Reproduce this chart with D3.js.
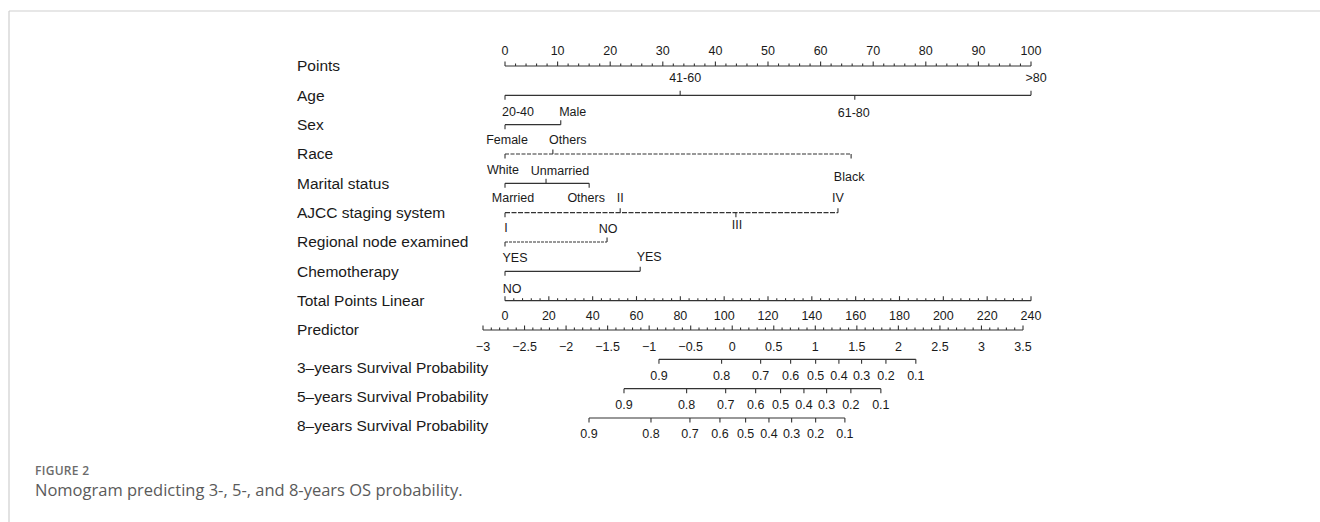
<!DOCTYPE html>
<meta charset="utf-8">
<style>
    body { margin: 0; background: #fff; }
    svg text { font-family: "Liberation Sans", Arial, sans-serif; fill: #1a1a1a; }
    .row-label { font-size: 15.5px; }
    .val { font-size: 12.5px; }
    .axis-line { stroke: #333; stroke-width: 1.1; fill: none; }
    .caption-head { font-family: "Open Sans", sans-serif; font-size: 12px; font-weight: 600; fill: #6b6b6b; letter-spacing: 0.3px; }
    .caption { font-family: "Open Sans", sans-serif; font-size: 16.5px; fill: #5a5a5a; }
</style>
<svg id="chart" width="1320" height="522"></svg>
<script src="https://cdn.jsdelivr.net/npm/d3@7/dist/d3.min.js"></script>
<script>
    // rows of the nomogram, top to bottom
    var rowNames = ["Points", "Age", "Sex", "Race", "Marital status", "AJCC staging system",
        "Regional node examined", "Chemotherapy", "Total Points Linear", "Predictor",
        "3\u2013years Survival Probability", "5\u2013years Survival Probability", "8\u2013years Survival Probability"];

    // variable levels and their points
    var ageLevels = ["20-40", "41-60", "61-80", ">80"];
    var agePoints = [0, 33.3, 66.5, 100];
    var sexLevels = ["Female", "Male"];
    var sexPoints = [0, 10.6];
    var raceLevels = ["White", "Others", "Black"];
    var racePoints = [0, 9.1, 65.8];
    var maritalLevels = ["Married", "Unmarried", "Others"];
    var maritalPoints = [0, 7.8, 16];
    var ajccLevels = ["I", "II", "III", "IV"];
    var ajccPoints = [0, 21.9, 43.9, 63.3];
    var nodeLevels = ["YES", "NO"];
    var nodePoints = [0, 19.4];
    var chemoLevels = ["NO", "YES"];
    var chemoPoints = [0, 25.7];

    // axis ticks
    var pointTicks = d3.range(0, 101, 10);
    var totalTicks = d3.range(0, 241, 20);
    var predictorTicks = [-3, -2.5, -2, -1.5, -1, -0.5, 0, 0.5, 1, 1.5, 2, 2.5, 3, 3.5];

    // survival probabilities and the predictor value at each
    var survLevels = [0.9, 0.8, 0.7, 0.6, 0.5, 0.4, 0.3, 0.2, 0.1];
    var surv3 = [-0.882, -0.128, 0.342, 0.703, 1.004, 1.284, 1.557, 1.850, 2.210];
    var surv5 = [-1.303, -0.549, -0.079, 0.282, 0.582, 0.863, 1.136, 1.428, 1.789];
    var surv8 = [-1.724, -0.978, -0.509, -0.148, 0.161, 0.442, 0.715, 1.004, 1.356];

    // label placement for each level: [dx, dy] from the tick (dy < 0 means above)
    var labelLayout = {
        "Age": [[13, 16], [5, -18], [-1, 17], [5, -18]],
        "Sex": [[2, 15], [12, -13]],
        "Race": [[-2, 16], [15, -14], [-2, 23]],
        "Marital status": [[8, 14], [14, -13], [-3, 14]],
        "AJCC staging system": [[1, 15], [0, -15], [1, 12], [0, -15]],
        "Regional node examined": [[10, 16], [1, -13]],
        "Chemotherapy": [[7, 17], [9, -15]]
    };
    var dashed = { "Race": "4,1.5", "AJCC staging system": "5,1.5", "Regional node examined": "3,1" };

    var svg = d3.select("#chart");

    var x = d3.scaleLinear().domain([0, 100]).range([505, 1031]);
    var xTotal = d3.scaleLinear().domain([0, 240]).range([505, 1031]);
    var xPred = d3.scaleLinear().domain([-3, 3.5]).range([483, 1023]);
    var y = d3.scalePoint().domain(rowNames).range([66, 418]);

    var fmt = d => (d < 0 ? "\u2212" : "") + Math.abs(d);

    // frame
    svg.append("line").attr("x1", 9).attr("x2", 1320).attr("y1", 11).attr("y2", 11)
        .attr("stroke", "#cfcfcf").attr("stroke-width", 1.2);
    svg.append("line").attr("x1", 9).attr("x2", 9).attr("y1", 11).attr("y2", 522)
        .attr("stroke", "#cfcfcf").attr("stroke-width", 1.2);

    // row labels
    svg.selectAll(".row-label")
        .data(rowNames)
        .enter().append("text")
        .attr("class", "row-label")
        .attr("x", 297)
        .attr("y", (d, i) => y(d) + (i >= 10 ? 8 : 0))
        .attr("dy", "0.35em")
        .text(d => d);

    // generic scale axis: ticks up or down, labels above or below
    function scaleAxis(row, scale, majors, minors, tickDir, labelDy, format) {
        var g = svg.append("g");
        var yy = y(row);
        var ext = d3.extent(majors);
        g.append("line").attr("class", "axis-line")
            .attr("x1", scale(ext[0])).attr("x2", scale(ext[1]))
            .attr("y1", yy).attr("y2", yy);
        g.selectAll(".minor").data(minors).enter().append("line")
            .attr("class", "axis-line")
            .attr("x1", d => scale(d)).attr("x2", d => scale(d))
            .attr("y1", yy).attr("y2", yy + tickDir * 2.5);
        g.selectAll(".major").data(majors).enter().append("line")
            .attr("class", "axis-line")
            .attr("x1", d => scale(d)).attr("x2", d => scale(d))
            .attr("y1", yy).attr("y2", yy + tickDir * 4.5);
        g.selectAll("text").data(majors).enter().append("text")
            .attr("class", "val")
            .attr("text-anchor", "middle")
            .attr("x", d => scale(d))
            .attr("y", yy + labelDy)
            .attr("dy", "0.35em")
            .text(format);
    }

    function minorsOf(lo, hi, step, majors) {
        var out = [];
        for (var v = lo; v <= hi + 1e-9; v += step) {
            var r = Math.round(v * 1000) / 1000;
            if (!majors.some(m => Math.abs(m - r) < 1e-6)) out.push(r);
        }
        return out;
    }

    scaleAxis("Points", x, pointTicks, minorsOf(0, 100, 2, pointTicks), -1, -15, d => d);
    scaleAxis("Total Points Linear", xTotal, totalTicks, minorsOf(0, 240, 4, totalTicks), -1, 15, d => d);
    scaleAxis("Predictor", xPred, predictorTicks, minorsOf(-3, 3.5, 0.1, predictorTicks), -1, 17, fmt);

    // variable axes
    function variableAxis(row, levels, pts) {
        var g = svg.append("g");
        var yy = y(row);
        var layout = labelLayout[row];
        g.append("line").attr("class", "axis-line")
            .attr("stroke-dasharray", dashed[row] || null)
            .attr("x1", x(d3.min(pts))).attr("x2", x(d3.max(pts)))
            .attr("y1", yy).attr("y2", yy);
        g.selectAll(".tick").data(pts).enter().append("line")
            .attr("class", "axis-line")
            .attr("x1", d => x(d)).attr("x2", d => x(d))
            .attr("y1", yy)
            .attr("y2", (d, i) => yy + (layout[i][1] < 0 ? -4.5 : 4.5));
        g.selectAll("text").data(levels).enter().append("text")
            .attr("class", "val")
            .attr("text-anchor", "middle")
            .attr("x", (d, i) => x(pts[i]) + layout[i][0])
            .attr("y", (d, i) => yy + layout[i][1])
            .attr("dy", "0.35em")
            .text(d => d);
    }

    variableAxis("Age", ageLevels, agePoints);
    variableAxis("Sex", sexLevels, sexPoints);
    variableAxis("Race", raceLevels, racePoints);
    variableAxis("Marital status", maritalLevels, maritalPoints);
    variableAxis("AJCC staging system", ajccLevels, ajccPoints);
    variableAxis("Regional node examined", nodeLevels, nodePoints);
    variableAxis("Chemotherapy", chemoLevels, chemoPoints);

    // survival probability axes, placed on the predictor scale
    function survivalAxis(row, values) {
        var g = svg.append("g");
        var yy = y(row);
        g.append("line").attr("class", "axis-line")
            .attr("x1", xPred(d3.min(values))).attr("x2", xPred(d3.max(values)))
            .attr("y1", yy).attr("y2", yy);
        g.selectAll(".tick").data(values).enter().append("line")
            .attr("class", "axis-line")
            .attr("x1", d => xPred(d)).attr("x2", d => xPred(d))
            .attr("y1", yy).attr("y2", yy + 4.5);
        g.selectAll("text").data(values).enter().append("text")
            .attr("class", "val")
            .attr("text-anchor", "middle")
            .attr("x", d => xPred(d))
            .attr("y", yy + 16)
            .attr("dy", "0.35em")
            .text((d, i) => survLevels[i]);
    }

    survivalAxis(rowNames[10], surv3);
    survivalAxis(rowNames[11], surv5);
    survivalAxis(rowNames[12], surv8);

    // caption
    svg.append("text").attr("class", "caption-head").attr("x", 35).attr("y", 475).text("FIGURE 2");
    svg.append("text").attr("class", "caption").attr("x", 35).attr("y", 496)
        .text("Nomogram predicting 3-, 5-, and 8-years OS probability.");
</script>
